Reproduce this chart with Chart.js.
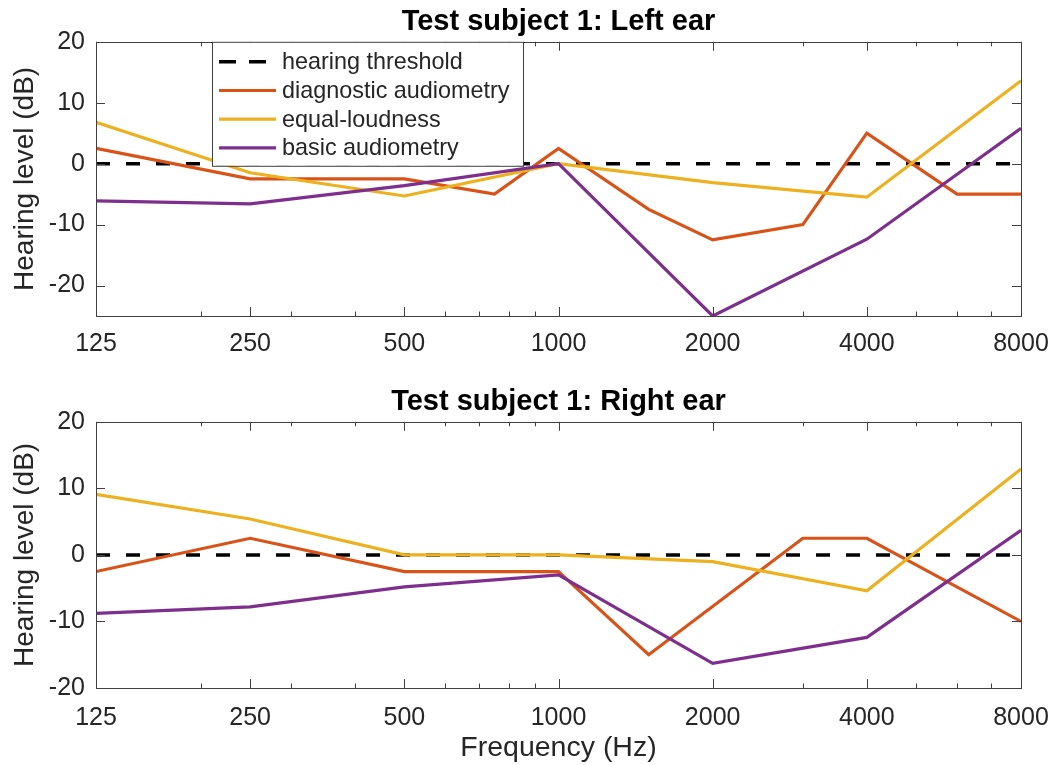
<!DOCTYPE html>
<html>
<head>
<meta charset="utf-8">
<script src="https://cdn.jsdelivr.net/npm/chart.js@4/dist/chart.umd.min.js"></script>
<style>
  html, body { margin: 0; padding: 0; background: #fff; overflow: hidden; }
  .plot { position: absolute; left: 0; width: 1055px; }
  #leftEar { top: 0; height: 380px; }
  #rightEar { top: 380px; height: 385px; }
</style>
</head>
<body>
<div class="plot" id="leftEar"><canvas id="leftCanvas"></canvas></div>
<div class="plot" id="rightEar"><canvas id="rightCanvas"></canvas></div>
<script>
// octave-band test frequencies (Hz)
const freqTicks = [125, 250, 500, 1000, 2000, 4000, 8000];
const minorTicks = [200, 300, 400, 600, 700, 800, 900, 3000, 5000, 6000, 7000];
const levelTicks = [-20, -10, 0, 10, 20];

const thresholdFreq = [125, 8000];
const thresholdLevel = [0, 0];

// left ear
const leftDiagFreq = [125, 250, 500, 750, 1000, 1500, 2000, 3000, 4000, 6000, 8000];
const leftDiag = [2.5, -2.5, -2.5, -5, 2.5, -7.5, -12.5, -10, 5, -5, -5];
const leftEqFreq = [125, 250, 500, 1000, 2000, 4000, 8000];
const leftEq = [6.8, -1.5, -5.3, 0, -3.1, -5.5, 13.6];
const leftBasicFreq = [125, 250, 500, 1000, 2000, 4000, 8000];
const leftBasic = [-6.1, -6.6, -3.6, 0, -25, -12.4, 5.8];

// right ear
const rightDiagFreq = [125, 250, 500, 1000, 1500, 3000, 4000, 8000];
const rightDiag = [-2.5, 2.5, -2.5, -2.5, -15, 2.5, 2.5, -10];
const rightEqFreq = [125, 250, 500, 1000, 2000, 4000, 8000];
const rightEq = [9.1, 5.4, 0, 0, -1, -5.4, 12.9];
const rightBasicFreq = [125, 250, 500, 1000, 2000, 4000, 8000];
const rightBasic = [-8.8, -7.8, -4.8, -3, -16.3, -12.4, 3.7];

const FONT = "'Liberation Sans', Arial, Helvetica, sans-serif";
const TEXT = '#262626';
const AXIS = '#404040';

const pts = (xs, ys) => xs.map((x, i) => ({ x: x, y: ys[i] }));

function makeDatasets(diagF, diag, eqF, eq, basicF, basic) {
  return [
    { label: 'hearing threshold', data: pts(thresholdFreq, thresholdLevel),
      borderColor: '#000000', borderWidth: 3.5, borderDash: [14, 16], order: 4 },
    { label: 'diagnostic audiometry', data: pts(diagF, diag),
      borderColor: '#D95319', borderWidth: 3.2, order: 3 },
    { label: 'equal-loudness', data: pts(eqF, eq),
      borderColor: '#EDB120', borderWidth: 3.2, order: 2 },
    { label: 'basic audiometry', data: pts(basicF, basic),
      borderColor: '#7E2F8E', borderWidth: 3.2, order: 1 }
  ];
}

// MATLAB-like box with inward ticks on all four sides
const boxAxes = {
  id: 'boxAxes',
  afterDatasetsDraw(chart) {
    const { ctx, chartArea: a, scales: { x, y } } = chart;
    ctx.save();
    ctx.strokeStyle = AXIS;
    ctx.lineWidth = 1;
    ctx.beginPath();
    const tick = (px, len, vertical) => {
      if (vertical) {
        ctx.moveTo(px, a.bottom); ctx.lineTo(px, a.bottom - len);
        ctx.moveTo(px, a.top); ctx.lineTo(px, a.top + len);
      } else {
        ctx.moveTo(a.left, px); ctx.lineTo(a.left + len, px);
        ctx.moveTo(a.right, px); ctx.lineTo(a.right - len, px);
      }
    };
    freqTicks.forEach(v => tick(Math.round(x.getPixelForValue(v)) + 0.5, 9, true));
    minorTicks.forEach(v => tick(Math.round(x.getPixelForValue(v)) + 0.5, 4.5, true));
    y.ticks.forEach(t => tick(Math.round(y.getPixelForValue(t.value)) + 0.5, 9, false));
    ctx.stroke();
    ctx.strokeRect(Math.round(a.left) + 0.5, Math.round(a.top) + 0.5,
      Math.round(a.right - a.left), Math.round(a.bottom - a.top));
    ctx.restore();
  }
};

// boxed legend inside the upper-left of the axes
const boxLegend = {
  id: 'boxLegend',
  afterDraw(chart, args, opts) {
    if (!opts.show) return;
    const { ctx, chartArea: a } = chart;
    const left = 212, top = a.top, w = 311, h = 124, step = 28.7;
    ctx.save();
    ctx.fillStyle = '#fff';
    ctx.fillRect(left, top, w, h);
    ctx.strokeStyle = AXIS;
    ctx.lineWidth = 1;
    ctx.strokeRect(left + 0.5, top + 0.5, w, h);
    ctx.font = '23.4px ' + FONT;
    ctx.textBaseline = 'middle';
    ctx.fillStyle = TEXT;
    chart.data.datasets.forEach((ds, i) => {
      const cy = top + 20 + i * step;
      ctx.beginPath();
      ctx.strokeStyle = ds.borderColor;
      ctx.lineWidth = ds.borderWidth;
      ctx.setLineDash(ds.borderDash ? [17, 13] : []);
      ctx.moveTo(219, cy);
      ctx.lineTo(276, cy);
      ctx.stroke();
      ctx.setLineDash([]);
      ctx.fillText(ds.label, 282, cy + 1);
    });
    ctx.restore();
  }
};

function makeChart(canvas, title, datasets, yMin, xTitle, xHeight, xPad, legend) {
  return new Chart(canvas, {
    type: 'line',
    data: { datasets: datasets },
    plugins: [boxAxes, boxLegend],
    options: {
      responsive: true,
      maintainAspectRatio: false,
      animation: false,
      layout: { padding: { left: 0, right: 34, top: 0, bottom: 0 } },
      elements: { point: { radius: 0 }, line: { tension: 0, fill: false } },
      plugins: {
        legend: { display: false },
        tooltip: { enabled: false },
        boxLegend: { show: legend },
        title: {
          display: true, text: title, fullSize: false, color: '#000',
          font: { family: FONT, size: 29, weight: 'bold' },
          padding: { top: 5, bottom: 2 }
        }
      },
      scales: {
        x: {
          type: 'logarithmic', min: 125, max: 8000,
          afterBuildTicks: s => { s.ticks = freqTicks.map(v => ({ value: v })); },
          afterFit: s => { s.height = xHeight; s.paddingLeft = 0; s.paddingRight = 0; },
          grid: { display: false, drawTicks: false },
          border: { display: false },
          ticks: {
            autoSkip: false, maxRotation: 0, padding: xPad, color: TEXT,
            font: { family: FONT, size: 25 },
            callback: v => String(v)
          },
          title: {
            display: !!xTitle, text: xTitle, color: TEXT,
            font: { family: FONT, size: 28.5 }, padding: { top: 0, bottom: 0 }
          }
        },
        y: {
          min: yMin, max: 20,
          afterBuildTicks: s => { s.ticks = levelTicks.map(v => ({ value: v })); },
          afterFit: s => { s.width = 96; s.paddingTop = 0; s.paddingBottom = 0; },
          grid: { display: false, drawTicks: false },
          border: { display: false },
          ticks: { padding: 11, color: TEXT, font: { family: FONT, size: 25 } },
          title: {
            display: true, text: 'Hearing level (dB)', color: TEXT,
            font: { family: FONT, size: 28 }, padding: { top: 8, bottom: 0 }
          }
        }
      }
    }
  });
}

makeChart(document.getElementById('leftCanvas'), 'Test subject 1: Left ear',
  makeDatasets(leftDiagFreq, leftDiag, leftEqFreq, leftEq, leftBasicFreq, leftBasic),
  -25, '', 64, 13, true);

makeChart(document.getElementById('rightCanvas'), 'Test subject 1: Right ear',
  makeDatasets(rightDiagFreq, rightDiag, rightEqFreq, rightEq, rightBasicFreq, rightBasic),
  -20, 'Frequency (Hz)', 77, 15, false);
</script>
</body>
</html>
